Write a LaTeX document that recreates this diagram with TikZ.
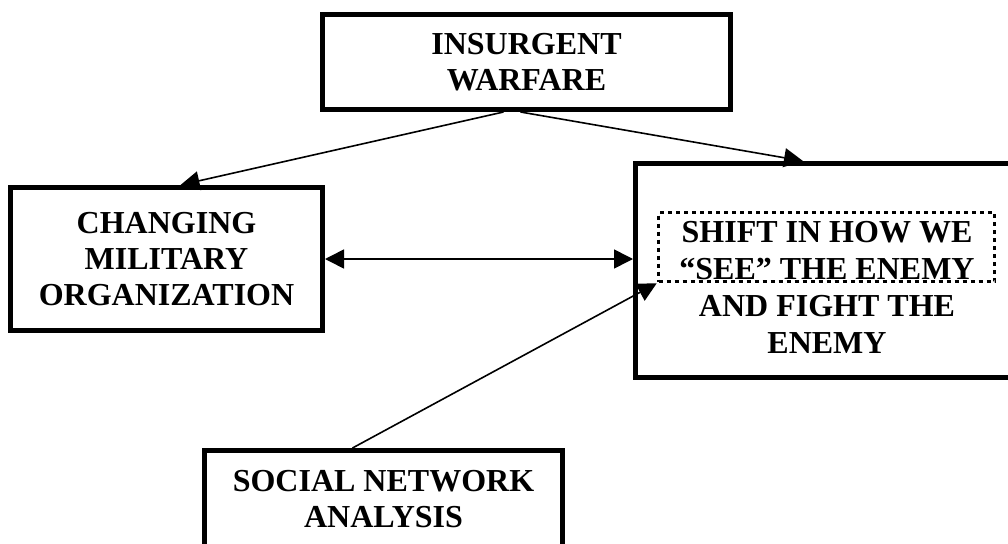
\documentclass[tikz,border=0pt]{standalone}
\usepackage{fontspec}
\setmainfont{Liberation Serif}
\usetikzlibrary{arrows.meta}
\begin{document}
\begin{tikzpicture}[x=1pt, y=-1pt,
    box/.style={draw, line width=5pt, inner sep=0pt},
    txt/.style={align=center, inner sep=0pt, font=\fontsize{32}{36}\selectfont\bfseries},
    >={Triangle[length=19pt, width=19pt]}]
        \useasboundingbox (0,0) rectangle (1008,543);
        \clip (0,0) rectangle (1008,543);

        \node[box, txt, minimum width=408pt, minimum height=95pt] (insurg) at (526.5,62) {INSURGENT\\WARFARE};
        \node[box, txt, minimum width=312pt, minimum height=143pt] (milorg) at (166.5,259) {CHANGING\\MILITARY\\ORGANIZATION};
        \node[box, minimum width=383pt, minimum height=214pt] (shiftbox) at (827,270.5) {};
        \node[txt, font=\fontsize{32}{37}\selectfont\bfseries] (shift) at (827,287) {SHIFT IN HOW WE\\“SEE” THE ENEMY\\AND FIGHT THE\\ENEMY};
        \node[draw, line width=3.5pt, dash pattern=on 4pt off 4pt, inner sep=0pt,
              minimum width=336pt, minimum height=69pt] (seebox) at (826.5,247) {};
        \node[box, txt, minimum width=358pt, minimum height=98pt] (sna) at (383.5,499.5) {SOCIAL NETWORK\\ANALYSIS};

        \draw [line width=1.6pt, ->] ([xshift=-23pt]insurg.south) -- ([xshift=14pt]milorg.north);
        \draw [line width=1.6pt, ->] ([xshift=-6pt]insurg.south) -- ([xshift=-24pt]shiftbox.north);
        \draw [line width=1.6pt, <->] (milorg.east) -- (milorg.east -| shiftbox.west);
        \draw [line width=1.6pt, ->] ([xshift=-31pt]sna.north) -- (seebox.south west);
    \end{tikzpicture}
\end{document}
